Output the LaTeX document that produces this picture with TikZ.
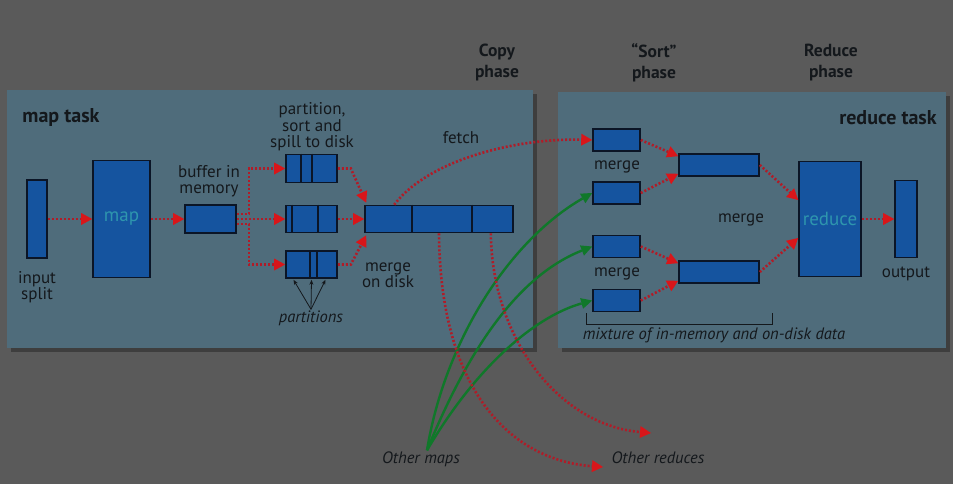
\documentclass[tikz,border=0pt]{standalone}
\usepackage{fontspec}
\setmainfont{PT Sans}
\usetikzlibrary{positioning, arrows.meta, backgrounds}

\definecolor{bggray}{HTML}{5A5A5A}
\definecolor{panel}{HTML}{4F6C7B}
\definecolor{boxblue}{HTML}{15549F}
\definecolor{boxline}{HTML}{0B1526}
\definecolor{redline}{HTML}{B01C28}
\definecolor{redtip}{HTML}{D8161A}
\definecolor{mapgreen}{HTML}{10782A}
\definecolor{textdark}{HTML}{14181C}
\definecolor{teal}{HTML}{2E96AE}

\begin{document}
\begin{tikzpicture}[x=1pt, y=-1pt,
    box/.style={draw=boxline, fill=boxblue, line width=1.6pt, inner sep=0pt, text=teal, font=\fontsize{19}{20}\selectfont},
    seg/.style={draw=boxline, line width=1.6pt},
    flow/.style={draw=redline, line width=2.6pt, dash pattern=on 2pt off 2pt,
        -{Triangle[length=11pt, width=12pt, color=redtip, line width=0pt]}},
    feed/.style={draw=mapgreen, line width=2.4pt, -{Triangle[length=11pt, width=11pt, line width=0pt]}},
    pick/.style={draw=textdark, line width=0.8pt, -{Stealth[length=5pt, width=4pt]}},
    txt/.style={text=textdark, font=\fontsize{17}{16.5}\selectfont, align=center, inner sep=1pt},
    note/.style={txt, font=\fontsize{16.5}{17}\selectfont\itshape},
    head/.style={txt, font=\fontsize{17.5}{21}\selectfont\bfseries},
    title/.style={txt, font=\fontsize{20}{22}\selectfont\bfseries}]

    \useasboundingbox (0,0) rectangle (953,484);
    \fill[bggray] (0,0) rectangle (953,484);

    % panels
    \fill[black, opacity=0.3] (11,94) rectangle (537,352);
    \fill[black, opacity=0.3] (562,96) rectangle (950,352);
    \fill[panel] (7,90) rectangle (533,348);
    \fill[panel] (558,92) rectangle (946,348);

    % map side
    \node[box, minimum width=20pt, minimum height=78pt] (input) at (37,219) {};
    \node[box, minimum width=57pt, minimum height=117pt] (map) at (121.5,219) {map};
    \node[box, minimum width=51pt, minimum height=28pt] (buf) at (210.5,219) {};
    \node[box, minimum width=51pt, minimum height=28pt] (p1) at (311.5,168.5) {};
    \node[box, minimum width=51pt, minimum height=27pt] (p2) at (311.5,219) {};
    \node[box, minimum width=51pt, minimum height=27pt] (p3) at (311.5,264.5) {};
    \node[box, minimum width=148pt, minimum height=27pt] (disk) at (439,219) {};
    \foreach \b/\d in {p1/16, p1/27, p2/7, p2/33, p3/25, p3/32, disk/48, disk/108}
        \draw[seg] ([xshift=\d]\b.north west) -- ([xshift=\d]\b.south west);

    % reduce side
    \node[box, minimum width=47pt, minimum height=22pt] (mA) at (616.5,140) {};
    \node[box, minimum width=47pt, minimum height=22pt] (mB) at (616.5,193) {};
    \node[box, minimum width=47pt, minimum height=22pt] (mC) at (616.5,246.5) {};
    \node[box, minimum width=47pt, minimum height=22pt] (mD) at (616.5,300.5) {};
    \node[box, minimum width=80pt, minimum height=22pt] (mid1) at (719,165) {};
    \node[box, minimum width=80pt, minimum height=22pt] (mid2) at (719,272) {};
    \node[box, minimum width=62pt, minimum height=115pt] (reduce) at (830,219) {reduce};
    \node[box, minimum width=22pt, minimum height=77pt] (output) at (906,219) {};

    % labels
    \node[title] (maptask) at (61,118) {map task};
    \node[title] (redtask) at (888,118) {reduce task};
    \node[head] (copy) at (497,63) {Copy\\phase};
    \node[head] (sort) at (654,63) {“Sort”\\phase};
    \node[head] (redph) at (831,63) {Reduce\\phase};
    \node[txt] (inlbl) at (37,287) {input\\split};
    \node[txt] (buflbl) at (209,181) {buffer in\\memory};
    \node[txt] (spill) at (312,127) {partition,\\sort and\\spill to disk};
    \node[note] (parts) at (311,318) {partitions};
    \node[txt] (mdisk) at (388,275) {merge\\on disk};
    \node[txt] (fetch) at (461,138) {fetch};
    \node[txt] (mg1) at (617,167) {merge};
    \node[txt] (mg2) at (617,274) {merge};
    \node[txt] (mg3) at (741,220) {merge};
    \node[txt] (outlbl) at (906,274) {output};
    \node[note] (mix) at (714,335) {mixture of in-memory and on-disk data};
    \node[note] (omaps) at (421,459) {Other maps};
    \node[note] (oreds) at (658,458) {Other reduces};
    \coordinate (r1) at (603,467);
    \coordinate (r2) at (651,433);

    \draw[textdark, line width=1pt] (586,313) -- (586,324) -- (772,324) -- (772,313);

    % Draw edges
    \draw[flow] (input) -- (map);
    \draw[flow] (map) -- (buf);
    \draw[flow] ([yshift=5]buf.east) -- ++(12,0) |- (p1.west);
    \draw[flow] (buf.east) -- (p2.west);
    \draw[flow] ([yshift=-5]buf.east) -- ++(12,0) |- (p3.west);
    \draw[flow] (p1.east) -- ++(13,0) -- ([xshift=2,yshift=2]disk.north west);
    \draw[flow] (p2.east) -- (disk.west);
    \draw[flow] (p3.east) -- ++(13,0) -- ([xshift=2,yshift=-2]disk.south west);
    \foreach \d in {-18,0,14}
        \draw[pick] (parts.north) -- ([xshift=\d, yshift=-1]p3.south);

    \draw[feed] ([xshift=6]omaps.north) .. controls (445,340) and (510,240) .. (mB.west);
    \draw[feed] ([xshift=6]omaps.north) .. controls (470,345) and (520,275) .. (mC.west);
    \draw[feed] ([xshift=6]omaps.north) .. controls (480,360) and (540,315) .. (mD.west);

    \draw[flow] ([xshift=30]disk.north west) .. controls (430,158) and (520,138) .. (mA.west);
    \draw[flow] (disk.south) .. controls (440,390) and (510,460) .. (r1);
    \draw[flow] ([xshift=-23]disk.south east) .. controls (492,340) and (560,425) .. (r2);

    \draw[flow] (mA.east) -- ([yshift=-3]mid1.north west);
    \draw[flow] (mB.east) -- ([yshift=3]mid1.south west);
    \draw[flow] (mC.east) -- ([yshift=-3]mid2.north west);
    \draw[flow] (mD.east) -- ([yshift=3]mid2.south west);
    \draw[flow] (mid1.east) -- ([yshift=19]reduce.west);
    \draw[flow] (mid2.east) -- ([yshift=-19]reduce.west);
    \draw[flow] (reduce) -- (output);
\end{tikzpicture}
\end{document}
